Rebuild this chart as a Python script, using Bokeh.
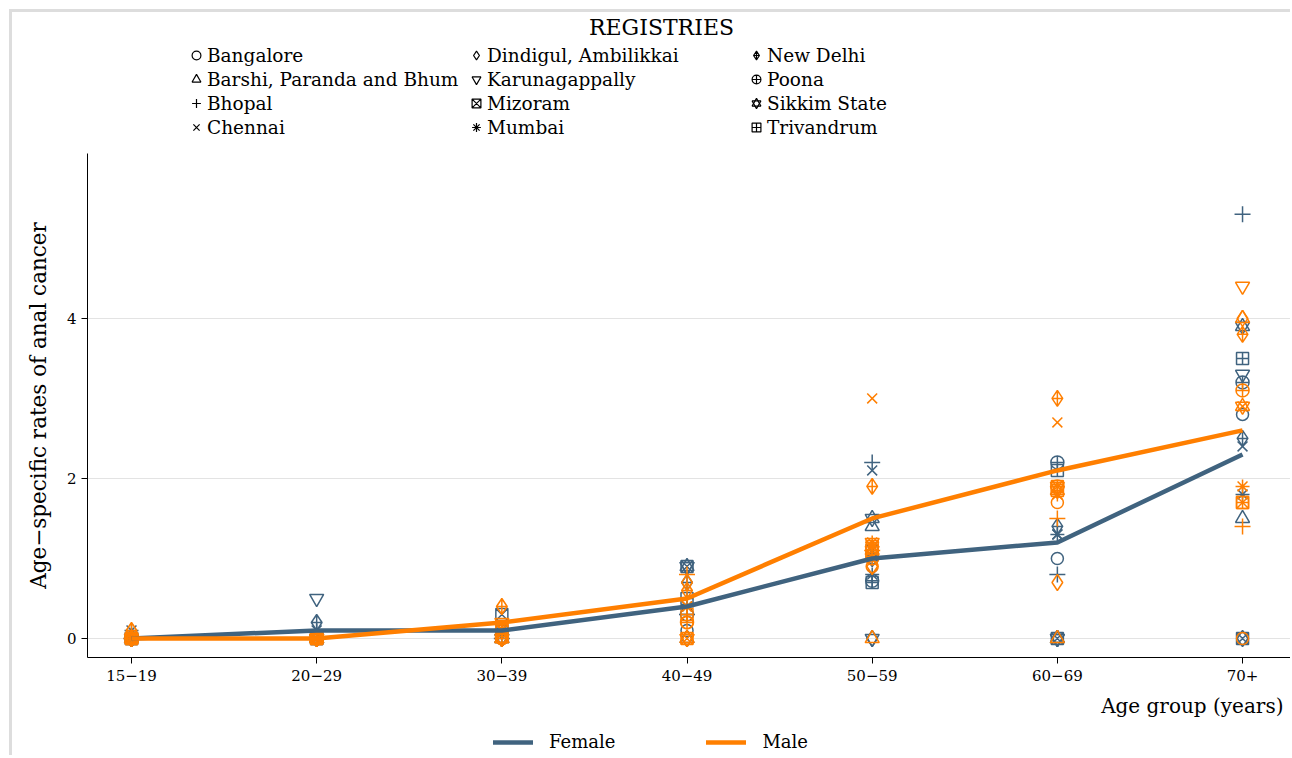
from bokeh.plotting import figure
from bokeh.models import ColumnDataSource, Legend, LegendItem, Label, FixedTicker, Range1d
from bokeh.layouts import column
from bokeh.embed import file_html
from bokeh.resources import INLINE

FONT = "DejaVu Serif"
BLUE = "#40637f"
ORANGE = "#ff7f00"

age_groups = ["15\u221219", "20\u221229", "30\u221239", "40\u221249", "50\u221259", "60\u221269", "70+"]

registries = ["Bangalore", "Barshi, Paranda and Bhum", "Bhopal", "Chennai",
              "Dindigul, Ambilikkai", "Karunagappally", "Mizoram", "Mumbai",
              "New Delhi", "Poona", "Sikkim State", "Trivandrum"]

# age-specific rates per registry (rows follow `registries`, columns follow `age_groups`)
female_rates = [
    [0, 0, 0, 0.1, 1.0, 1.0, 2.8],     # Bangalore
    [0, 0, 0, 0, 1.4, 0, 1.5],         # Barshi
    [0, 0, 0, 0.3, 2.2, 0.8, 5.3],     # Bhopal
    [0, 0, 0.1, 0.4, 2.1, 1.3, 2.4],   # Chennai
    [0, 0, 0, 0, 0, 0, 0],             # Dindigul
    [0, 0.5, 0, 0.9, 0, 0, 3.3],       # Karunagappally
    [0, 0, 0.3, 0.9, 1.1, 0, 0],       # Mizoram
    [0.1, 0.1, 0.1, 0.4, 0.8, 1.3, 1.8],  # Mumbai
    [0, 0.2, 0.1, 0.7, 1.0, 1.4, 2.5], # New Delhi
    [0, 0, 0.1, 0.3, 0.72, 2.2, 3.2],  # Poona
    [0, 0, 0, 0.9, 1.5, 0, 3.9],       # Sikkim State
    [0, 0, 0.1, 0.5, 0.7, 2.1, 3.5],   # Trivandrum
]
male_rates = [
    [0, 0, 0, 0.2, 0.9, 1.7, 0],       # Bangalore
    [0, 0, 0, 0, 0, 0, 4.0],           # Barshi
    [0, 0, 0.1, 0.8, 1.1, 1.5, 1.4],   # Bhopal
    [0, 0, 0.1, 0.4, 3.0, 2.7, 2.9],   # Chennai
    [0, 0, 0, 0.7, 0.9, 0.7, 4.0],     # Dindigul
    [0, 0, 0.2, 0, 1.2, 1.9, 4.4],     # Karunagappally
    [0, 0, 0.15, 0, 1.15, 1.9, 1.7],   # Mizoram
    [0, 0, 0.1, 0.4, 1.2, 1.8, 1.9],   # Mumbai
    [0.1, 0, 0.4, 0.6, 1.9, 3.0, 3.8], # New Delhi
    [0, 0, 0, 0.2, 1.0, 1.9, 3.1],     # Poona
    [0, 0, 0, 0, 1.1, 1.85, 2.9],      # Sikkim State
    [0, 0, 0.1, 0.3, 1.1, 1.85, 1.7],  # Trivandrum
]
female_mean = [0, 0.1, 0.1, 0.4, 1.0, 1.2, 2.3]
male_mean = [0, 0, 0.2, 0.5, 1.5, 2.1, 2.6]

y_ticks = [0, 2, 4]

# marker style per registry (Sikkim uses a hexagram = two overlaid triangles)
markers = [["circle"], ["triangle"], ["cross"], ["x"], ["diamond"], ["inverted_triangle"],
           ["square_x"], ["asterisk"], ["diamond_cross"], ["circle_cross"],
           ["triangle", "inverted_triangle"], ["square_cross"]]
msize = {"circle": 12, "triangle": 14, "cross": 16, "x": 14, "diamond": 16,
         "inverted_triangle": 14, "square_x": 12, "asterisk": 14, "diamond_cross": 16,
         "circle_cross": 13, "square_cross": 12}

xs = list(range(len(age_groups)))
W = 1278

# ---------------- top: registry legend ----------------
top = figure(width=W, height=141, output_backend="svg", toolbar_location=None,
             x_axis_location=None, y_axis_location=None, min_border=0,
             x_range=Range1d(0, 1), y_range=Range1d(0, 1))
top.outline_line_color = None
top.grid.visible = False

items = []
for i, reg in enumerate(registries):
    rs = []
    for m in markers[i]:
        r = top.scatter(x=[-5], y=[-5], marker=m, size=10, line_color="black",
                        fill_color=None, line_width=1.2)
        rs.append(r)
    items.append(LegendItem(label=reg, renderers=rs))

for c, vx in enumerate((98, 378, 658)):
    leg = Legend(items=items[4 * c:4 * c + 4], location=(vx, 14), orientation="vertical",
                 border_line_color=None, background_fill_alpha=0, padding=0, margin=0,
                 glyph_width=22, glyph_height=24, label_height=20, spacing=0,
                 label_standoff=0, label_text_font=FONT, label_text_font_size="18.5px",
                 label_text_color="black")
    top.add_layout(leg, "center")
top.add_layout(Label(x=574, y=126, x_units="screen", y_units="screen", text="REGISTRIES",
                     text_font=FONT, text_font_size="22px", text_align="center",
                     text_baseline="middle", text_color="black"))

# ---------------- main plot ----------------
p = figure(width=W, height=538, output_backend="svg", toolbar_location=None,
           x_range=Range1d(-0.2376, 6.259), y_range=Range1d(-0.2375, 6.06),
           min_border_left=75, min_border_right=0, min_border_top=0, min_border_bottom=34)

p.outline_line_color = None
p.xgrid.grid_line_color = None
p.ygrid.grid_line_color = "#e3e3e3"
p.ygrid.grid_line_width = 1

p.xaxis.ticker = FixedTicker(ticks=xs)
p.xaxis.major_label_overrides = {i: lab for i, lab in enumerate(age_groups)}
p.yaxis.ticker = FixedTicker(ticks=y_ticks)
for ax in (p.xaxis[0], p.yaxis[0]):
    ax.minor_tick_line_color = None
    ax.major_tick_out = 6
    ax.major_tick_in = 0
    ax.axis_line_color = "black"
    ax.major_tick_line_color = "black"
    ax.major_label_text_font = FONT
    ax.major_label_text_font_size = "15px"
    ax.major_label_text_color = "black"
    ax.axis_label_text_font = FONT
    ax.axis_label_text_font_style = "normal"
    ax.axis_label_text_color = "black"
p.yaxis.major_label_orientation = "horizontal"
p.yaxis.axis_label = "Age\u2212specific rates of anal cancer"
p.yaxis.axis_label_text_font_size = "21.5px"
p.yaxis.axis_label_standoff = 13
p.xaxis.major_label_standoff = 6

for sex_rates, color in ((female_rates, BLUE), (male_rates, ORANGE)):
    for i, reg in enumerate(registries):
        src = ColumnDataSource(dict(x=xs, y=sex_rates[i]))
        for m in markers[i]:
            p.scatter("x", "y", source=src, marker=m, size=msize[m],
                      line_color=color, fill_color=None, line_width=1.5)

p.line(xs, female_mean, line_color=BLUE, line_width=4.5)
p.line(xs, male_mean, line_color=ORANGE, line_width=4.5)

# ---------------- bottom: x label and sex legend ----------------
bot = figure(width=W, height=64, output_backend="svg", toolbar_location=None,
             x_axis_location=None, y_axis_location=None, min_border=0,
             x_range=Range1d(0, 1), y_range=Range1d(0, 1))
bot.outline_line_color = None
bot.grid.visible = False
bot.add_layout(Label(x=1196, y=50, x_units="screen", y_units="screen", text="Age group (years)",
                     text_font=FONT, text_font_size="20px", text_align="right",
                     text_baseline="middle", text_color="black"))
fl = bot.line(x=[-5, -4], y=[-5, -4], line_color=BLUE, line_width=4.5, line_cap="round")
ml = bot.line(x=[-5, -4], y=[-5, -4], line_color=ORANGE, line_width=4.5, line_cap="round")
leg2 = Legend(items=[LegendItem(label="Female", renderers=[fl]), LegendItem(label="Male", renderers=[ml])],
              location=(406, 3), orientation="horizontal", border_line_color=None,
              background_fill_alpha=0, padding=0, margin=0, glyph_width=40, glyph_height=20,
              label_height=20, spacing=91, label_standoff=16, label_text_font=FONT,
              label_text_font_size="18px", label_text_color="black")
bot.add_layout(leg2, "center")

layout = column(top, p, bot, spacing=0,
                styles={"border-left": "3px solid #dddddd", "border-top": "3px solid #dddddd",
                        "margin-left": "9px", "margin-top": "9px"})

open("out.html", "w").write(file_html(layout, INLINE))
